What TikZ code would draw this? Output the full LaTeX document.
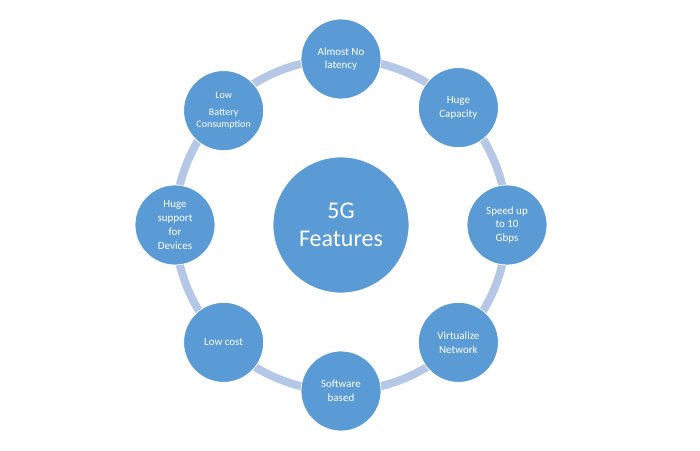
\documentclass[tikz,border=0pt]{standalone}
\usepackage{fontspec}
\setmainfont{Carlito}
\usetikzlibrary{positioning, calc}
\definecolor{Blu}{HTML}{5B9BD5}
\definecolor{RingBlu}{HTML}{B4C7E7}
\definecolor{White}{HTML}{FFFFFF}
\tikzset{
    feature/.style={circle, fill=Blu, draw=White, line width=0.8pt, minimum size=80pt, inner sep=0pt, text=White, align=center, font=\fontsize{11}{13.8}\selectfont},
    hubnode/.style={circle, fill=Blu, draw=White, line width=0.8pt, minimum size=136pt, inner sep=0pt, text=White, align=center, font=\fontsize{24}{28}\selectfont},
    ring/.style={draw=RingBlu, line width=8pt},
}
\begin{document}
\begin{tikzpicture}[x=1pt, y=1pt]
    \useasboundingbox (0,0) rectangle (700,450);

    % anello esterno
    \coordinate (mid) at (341,225);
    \draw[ring] (mid) circle[radius=166];

    % nodo centrale
    \node[hubnode] (hub) at (mid) {5G\\Features};

    % nodi sull'anello
    \node[feature] (latency) at ($(mid)+(90:166)$) {Almost No\\latency};
    \node[feature] (capacity) at ($(mid)+(45:166)$) {Huge\\Capacity};
    \node[feature] (speed) at ($(mid)+(0:166)$) {Speed up\\to 10\\Gbps};
    \node[feature] (virtual) at ($(mid)+(-45:166)$) {Virtualize\\Network};
    \node[feature] (software) at ($(mid)+(-90:166)$) {Software\\based};
    \node[feature] (cost) at ($(mid)+(-135:166)$) {Low cost};
    \node[feature] (devices) at ($(mid)+(180:166)$) {Huge\\support\\for\\Devices};
    \node[feature, font=\fontsize{10}{12}\selectfont, yshift=-3pt] (battery) at ($(mid)+(135:166)$) {Low\\[5pt]Battery\\Consumption};
\end{tikzpicture}
\end{document}
